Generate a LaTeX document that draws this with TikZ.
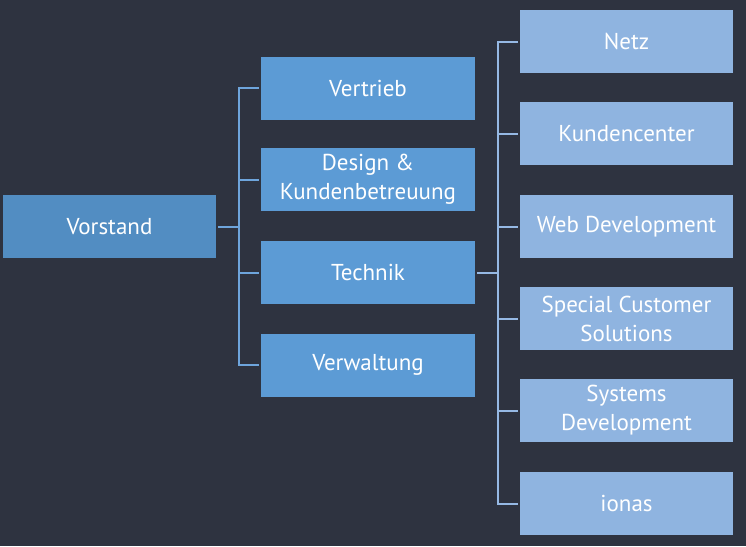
\documentclass[tikz,border=0pt]{standalone}
\usepackage{fontspec}
\setmainfont{PT Sans}
\definecolor{bg}{RGB}{46,51,64}
\definecolor{cA}{RGB}{82,141,194}
\definecolor{cB}{RGB}{92,155,213}
\definecolor{cC}{RGB}{143,180,224}
\definecolor{lnA}{RGB}{110,165,220}
\definecolor{lnB}{RGB}{150,185,228}
\begin{document}
\begin{tikzpicture}[x=1pt,y=-1pt,
  box/.style={draw=none,text=white,align=center,font=\fontsize{23}{29}\selectfont,inner sep=0pt,minimum height=63pt},
  lvA/.style={box,fill=cA,minimum width=213pt},
  lvB/.style={box,fill=cB,minimum width=214pt},
  lvC/.style={box,fill=cC,minimum width=213pt},
  conA/.style={draw=lnA,line width=2pt},
  conB/.style={draw=lnB,line width=2pt}]
\fill[bg] (0,0) rectangle (746,546);
\useasboundingbox (0,0) rectangle (746,546);
\node[lvA] (vor) at (109.5,226.5) {Vorstand};
\node[lvB] (ver) at (368,88) {Vertrieb};
\node[lvB] (des) at (368,179.5) {Design \&\\Kundenbetreuung};
\node[lvB] (tec) at (368,272.5) {Technik};
\node[lvB] (vwl) at (368,365) {Verwaltung};
\node[lvC] (netz) at (626.5,41.5) {Netz};
\node[lvC] (kc) at (626.5,133.5) {Kundencenter};
\node[lvC] (web) at (626.5,226.5) {Web Development};
\node[lvC] (scs) at (626.5,318.5) {Special Customer\\Solutions};
\node[lvC] (sys) at (626.5,410.5) {Systems\\Development};
\node[lvC] (ion) at (626.5,503.5) {ionas};
\coordinate (busA) at (239,0);
\coordinate (busB) at (498,0);
\draw[conA] ([xshift=2pt]vor.east) -- (busA |- vor.east);
\draw[conA] ([xshift=-2pt]ver.west) -- (busA |- ver.west) -- (busA |- vwl.west) -- ([xshift=-2pt]vwl.west);
\draw[conA] ([xshift=-2pt]des.west) -- (busA |- des.west);
\draw[conA] ([xshift=-2pt]tec.west) -- (busA |- tec.west);
\draw[conB] ([xshift=2pt]tec.east) -- (busB |- tec.east);
\draw[conB] ([xshift=-2pt]netz.west) -- (busB |- netz.west) -- (busB |- ion.west) -- ([xshift=-2pt]ion.west);
\draw[conB] ([xshift=-2pt]kc.west) -- (busB |- kc.west);
\draw[conB] ([xshift=-2pt]web.west) -- (busB |- web.west);
\draw[conB] ([xshift=-2pt]scs.west) -- (busB |- scs.west);
\draw[conB] ([xshift=-2pt]sys.west) -- (busB |- sys.west);
\end{tikzpicture}
\end{document}
